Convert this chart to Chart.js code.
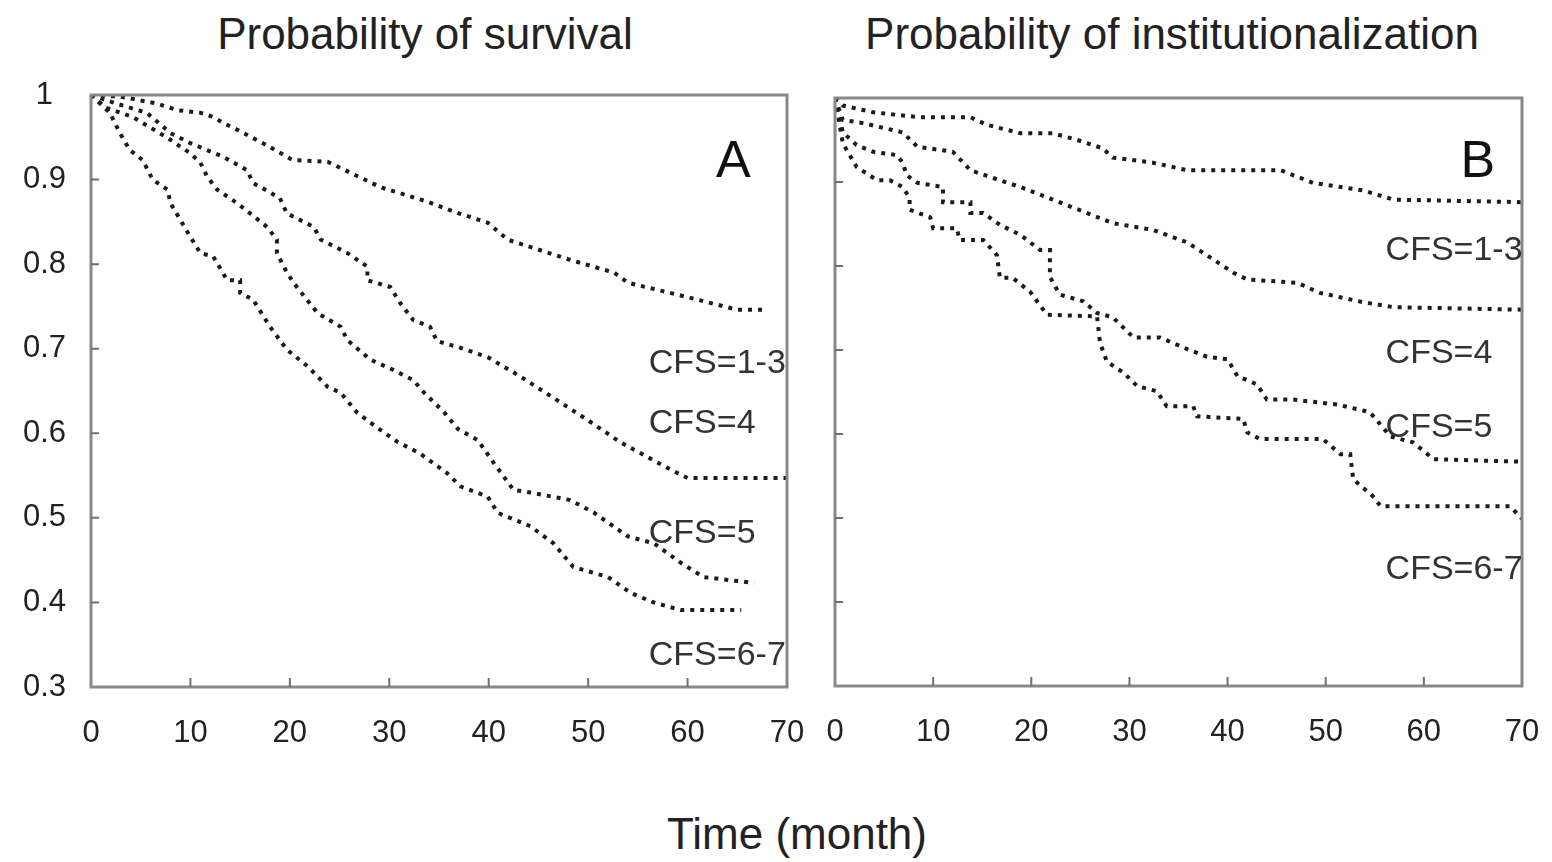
<!DOCTYPE html>
<html>
<head>
<meta charset="utf-8">
<script src="https://cdn.jsdelivr.net/npm/chart.js@4.4.1/dist/chart.umd.min.js"></script>
<style>
  html, body { margin: 0; padding: 0; background: #fff; }
  body { width: 1552px; height: 862px; position: relative; overflow: hidden;
         font-family: "Liberation Sans", Arial, sans-serif; color: #222; }
  .title { position: absolute; font-size: 44px; line-height: 44px; white-space: nowrap; transform: translateX(-50%); }
  .box { position: absolute; }
</style>
</head>
<body>
<div class="title" style="left:425px; top:12px;">Probability of survival</div>
<div class="title" style="left:1172px; top:12px;">Probability of institutionalization</div>
<div class="title" style="left:797px; top:812px;">Time (month)</div>
<div class="box" style="left:0; top:65px; width:820px; height:730px;"><canvas id="chartA"></canvas></div>
<div class="box" style="left:815px; top:65px; width:737px; height:730px;"><canvas id="chartB"></canvas></div>
<script>
const xTicks = [0, 10, 20, 30, 40, 50, 60, 70];
const yTicks = [0.3, 0.4, 0.5, 0.6, 0.7, 0.8, 0.9, 1];
const seriesNames = ["CFS=1-3", "CFS=4", "CFS=5", "CFS=6-7"];

// panel A: survival, [month, probability]
const survival13 = [[0,1],[3,0.998],[6.6,0.99],[8.7,0.982],[11,0.979],[12.3,0.974],[13.3,0.967],[14.7,0.959],[17.3,0.943],[20.3,0.923],[23.8,0.921],[29.1,0.891],[33.8,0.874],[36.5,0.862],[39.9,0.849],[41.9,0.829],[48.2,0.805],[52.6,0.79],[54,0.778],[60,0.761],[65,0.746],[68,0.746]];
const survival4 = [[0,1],[2.5,0.99],[5.6,0.979],[8,0.955],[10,0.943],[13.3,0.927],[15.7,0.911],[16.3,0.896],[19,0.878],[19.7,0.86],[22.4,0.844],[23.1,0.829],[25.8,0.813],[27.8,0.797],[27.8,0.781],[30.1,0.773],[31.1,0.754],[32.4,0.734],[34.1,0.726],[34.8,0.709],[36.9,0.702],[39.9,0.69],[43.2,0.667],[46.5,0.642],[49.9,0.616],[53.3,0.589],[58.3,0.557],[60,0.547],[70,0.547]];
const survival5 = [[0,1],[1.5,0.985],[4.2,0.974],[7.6,0.95],[10,0.931],[11,0.92],[11.7,0.903],[12.7,0.888],[14.7,0.872],[16,0.86],[17.7,0.844],[18.7,0.829],[18.7,0.813],[19.7,0.79],[20.7,0.773],[22.8,0.742],[25.1,0.726],[25.8,0.71],[28.1,0.687],[30.4,0.675],[32.4,0.663],[33.5,0.648],[35.5,0.625],[36.9,0.605],[38.9,0.592],[40.5,0.565],[42.5,0.533],[44.2,0.53],[48.2,0.521],[50.6,0.506],[54,0.478],[56.6,0.47],[59.3,0.447],[61.6,0.43],[66.7,0.423]];
const survival67 = [[0,1],[1.9,0.979],[2.9,0.955],[3.9,0.935],[5.2,0.923],[6.2,0.9],[7.7,0.888],[8,0.872],[9,0.852],[10,0.832],[11,0.813],[12.3,0.809],[13.7,0.781],[15,0.781],[15,0.766],[16.3,0.758],[18,0.726],[19.7,0.699],[21.8,0.679],[23.8,0.655],[25.1,0.648],[26.8,0.624],[29.1,0.604],[30.8,0.59],[33.1,0.576],[35.8,0.553],[37.2,0.537],[39.9,0.525],[40.9,0.506],[44.2,0.49],[46.5,0.47],[48.5,0.442],[52,0.43],[54.3,0.411],[56.6,0.4],[59.3,0.391],[65.4,0.391]];

// panel B: institutionalization, [month, probability]
const inst13 = [[0,1],[0.8,0.991],[3.9,0.983],[8.7,0.977],[13.8,0.977],[15.5,0.968],[18.9,0.958],[22.2,0.958],[24.7,0.95],[27.3,0.94],[28.3,0.929],[32.4,0.923],[35.9,0.914],[45.4,0.914],[48.7,0.899],[53.8,0.89],[56.9,0.879],[70,0.876]];
const inst4 = [[0,1],[0.8,0.974],[2.9,0.97],[6.9,0.959],[8.4,0.942],[12,0.936],[13.8,0.914],[16.8,0.902],[18.9,0.894],[22.2,0.879],[25.7,0.863],[28.3,0.851],[32.4,0.843],[35.9,0.828],[40.6,0.792],[42,0.784],[47.1,0.78],[49.4,0.768],[53.8,0.757],[56.9,0.751],[70,0.748]];
const inst5 = [[0,1],[0.8,0.959],[2.2,0.944],[3.9,0.936],[6.3,0.932],[6.9,0.923],[7.3,0.908],[8.4,0.899],[11,0.894],[11,0.876],[13.8,0.876],[13.8,0.863],[15.1,0.863],[16.8,0.849],[18.9,0.837],[20.9,0.819],[21.9,0.819],[21.9,0.787],[22.9,0.766],[25.3,0.758],[26.7,0.744],[28.3,0.739],[30.4,0.715],[33.1,0.715],[35.9,0.701],[37.9,0.692],[40,0.689],[41,0.669],[43,0.659],[44,0.641],[46.7,0.641],[51.2,0.635],[54.5,0.626],[56.6,0.597],[58.9,0.59],[61,0.57],[70,0.567]];
const inst67 = [[0,1],[0.8,0.946],[2.2,0.918],[4.3,0.902],[5.6,0.902],[6.9,0.894],[7.6,0.881],[7.6,0.867],[9.7,0.858],[10,0.845],[12.4,0.845],[12.7,0.831],[15.1,0.831],[16.5,0.813],[16.8,0.786],[18.1,0.786],[19.9,0.769],[21.6,0.742],[26.7,0.74],[27,0.709],[27.7,0.686],[29.4,0.673],[30.8,0.657],[32.8,0.651],[33.8,0.633],[36.5,0.633],[36.9,0.621],[41.6,0.618],[42,0.602],[43.3,0.594],[49.7,0.594],[51.5,0.576],[52.5,0.576],[52.8,0.546],[54.8,0.526],[55.6,0.514],[68.8,0.514],[70,0.499]];

const FONT = '"Liberation Sans", Arial, sans-serif';

// frame, inner tick marks, curve labels and panel letter
const framePlugin = {
    id: "frame",
    afterDatasetsDraw(chart, args, opts) {
        const { ctx, chartArea: a, scales: { x, y } } = chart;
        ctx.save();
        ctx.strokeStyle = "#888";
        ctx.lineWidth = 3;
        ctx.strokeRect(a.left, a.top, a.right - a.left, a.bottom - a.top);
        ctx.strokeStyle = "#707070";
        ctx.lineWidth = 2;
        ctx.beginPath();
        xTicks.slice(1, -1).forEach(v => {
            const px = x.getPixelForValue(v);
            ctx.moveTo(px, a.bottom);
            ctx.lineTo(px, a.bottom - 9);
        });
        yTicks.slice(1, -1).forEach(v => {
            const py = y.getPixelForValue(v);
            ctx.moveTo(a.left, py);
            ctx.lineTo(a.left + 8, py);
        });
        ctx.stroke();

        ctx.fillStyle = "#333";
        ctx.textAlign = "left";
        ctx.textBaseline = "alphabetic";
        ctx.font = "34px " + FONT;
        opts.labelY.forEach((v, i) => {
            ctx.fillText(seriesNames[i], x.getPixelForValue(opts.labelX), y.getPixelForValue(v));
        });
        ctx.fillStyle = "#111";
        ctx.textAlign = "center";
        ctx.font = "52px " + FONT;
        ctx.fillText(opts.letter, x.getPixelForValue(opts.letterX), y.getPixelForValue(opts.letterY));
        ctx.restore();
    }
};

function makeDatasets(seriesList) {
    return seriesList.map((d, i) => ({
        label: seriesNames[i],
        data: d,
        borderColor: "#1c1c1c",
        borderWidth: 4,
        borderDash: [4, 6],
        borderCapStyle: "butt",
        pointRadius: 0,
        tension: 0,
        fill: false
    }));
}

function makeChart(id, seriesList, side, frameOpts) {
    const left = side === "A";
    return new Chart(document.getElementById(id), {
        type: "line",
        data: { datasets: makeDatasets(seriesList) },
        options: {
            responsive: true,
            maintainAspectRatio: false,
            animation: false,
            layout: { padding: left ? { top: 30, right: 33, left: 0, bottom: 0 } : { top: 33, right: 30, left: 0, bottom: 0 } },
            scales: {
                x: {
                    type: "linear",
                    min: 0,
                    max: 70,
                    afterBuildTicks: s => { s.ticks = xTicks.map(v => ({ value: v })); },
                    afterFit: s => {
                        s.height = left ? 108 : 109;
                        s.paddingLeft = 0;
                        s.paddingRight = 0;
                    },
                    grid: { display: false, drawTicks: false },
                    border: { display: false },
                    ticks: { color: "#222", padding: 28, font: { family: FONT, size: 31 }, maxRotation: 0 }
                },
                y: {
                    type: "linear",
                    min: 0.3,
                    max: 1,
                    afterBuildTicks: s => { s.ticks = yTicks.map(v => ({ value: v })); },
                    afterFit: s => {
                        s.width = left ? 91 : 20;
                        s.paddingTop = 0;
                        s.paddingBottom = 0;
                    },
                    grid: { display: false, drawTicks: false },
                    border: { display: false },
                    ticks: {
                        display: left,
                        color: "#222",
                        padding: 25,
                        crossAlign: "center",
                        font: { family: FONT, size: 31 },
                        callback: v => (v === 1 ? "1" : v.toFixed(1))
                    }
                }
            },
            plugins: {
                legend: { display: false },
                tooltip: { enabled: false },
                frame: frameOpts
            }
        },
        plugins: [framePlugin]
    });
}

makeChart("chartA", [survival13, survival4, survival5, survival67], "A",
    { labelX: 56.1, labelY: [0.671, 0.6, 0.47, 0.326], letter: "A", letterX: 64.6, letterY: 0.903 });
makeChart("chartB", [inst13, inst4, inst5, inst67], "B",
    { labelX: 56.1, labelY: [0.807, 0.685, 0.597, 0.427], letter: "B", letterX: 65.5, letterY: 0.906 });
</script>
</body>
</html>
